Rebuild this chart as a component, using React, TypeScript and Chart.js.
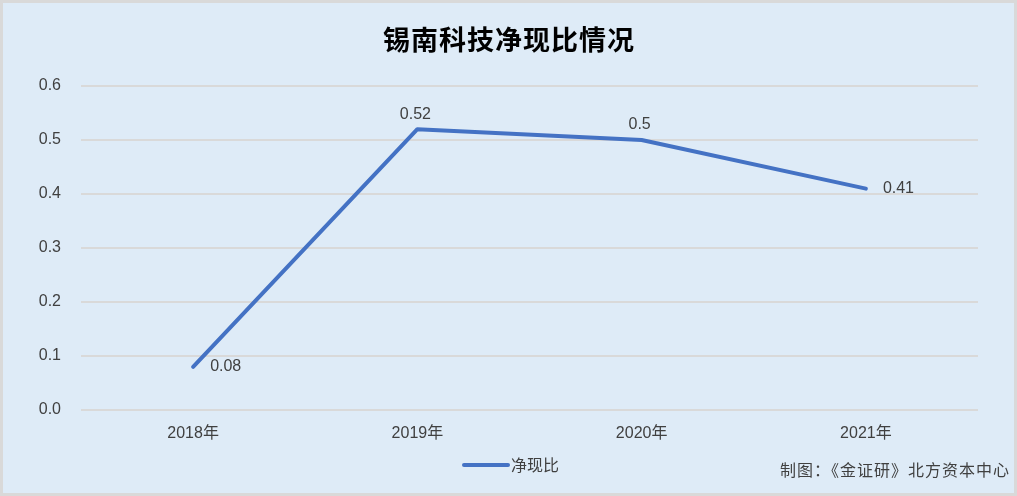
import React, { useEffect, useRef } from "react";
import { Chart, registerables } from "chart.js";

Chart.register(...registerables);

const categories = ["2018年", "2019年", "2020年", "2021年"];
const seriesName = "净现比";
const values = [0.08, 0.52, 0.5, 0.41];
const valueLabels = ["0.08", "0.52", "0.5", "0.41"];
const yTicks = [0, 0.1, 0.2, 0.3, 0.4, 0.5, 0.6];
const titleText = "锡南科技净现比情况";
const footerText = "制图：《金证研》北方资本中心";

const W = 1017;
const H = 496;
const LINE_COLOR = "#4472C4";
const BG = "#DEEBF7";
const LATIN = "'Liberation Sans', 'Noto Sans CJK SC', sans-serif";
const CJK = "'Noto Sans CJK SC', sans-serif";

export default function App() {
  const ref = useRef<HTMLCanvasElement | null>(null);

  useEffect(() => {
    document.body.style.margin = "0";
    const canvas = ref.current;
    if (!canvas) return;

    const decor = {
      id: "decor",
      beforeDraw(chart: any) {
        const ctx = chart.ctx;
        ctx.save();
        ctx.fillStyle = BG;
        ctx.fillRect(0, 0, W, H);
        ctx.strokeStyle = "#D9D9D9";
        ctx.lineWidth = 3;
        ctx.strokeRect(1.5, 1.5, W - 3, H - 3);
        ctx.restore();
      },
      afterDraw(chart: any) {
        const ctx = chart.ctx;
        ctx.save();
        // title
        ctx.fillStyle = "#000000";
        ctx.font = `bold 27px ${CJK}`;
        ctx.textAlign = "center";
        ctx.textBaseline = "middle";
        try { (ctx as any).letterSpacing = "1px"; } catch (e) {}
        ctx.fillText(titleText, 509, 40);
        try { (ctx as any).letterSpacing = "0px"; } catch (e) {}
        // data labels
        const meta = chart.getDatasetMeta(0);
        ctx.font = `16px ${LATIN}`;
        ctx.fillStyle = "#404040";
        const placements = ["right", "above", "above", "right"];
        meta.data.forEach((pt: any, i: number) => {
          const p = placements[i];
          if (p === "above") {
            ctx.textAlign = "center";
            ctx.textBaseline = "middle";
            ctx.fillText(valueLabels[i], pt.x - 2, pt.y - 15);
          } else {
            ctx.textAlign = "left";
            ctx.textBaseline = "middle";
            ctx.fillText(valueLabels[i], pt.x + 17, pt.y);
          }
        });
        // legend
        ctx.strokeStyle = LINE_COLOR;
        ctx.lineWidth = 4;
        ctx.lineCap = "round";
        ctx.beginPath();
        ctx.moveTo(464, 465);
        ctx.lineTo(508, 465);
        ctx.stroke();
        ctx.fillStyle = "#404040";
        ctx.font = `16px ${CJK}`;
        ctx.textAlign = "left";
        ctx.textBaseline = "middle";
        ctx.fillText(seriesName, 511, 465);
        // footer
        ctx.fillStyle = "#404040";
        ctx.font = `16px ${CJK}`;
        ctx.textAlign = "right";
        try { (ctx as any).letterSpacing = "1px"; } catch (e) {}
        ctx.fillText(footerText, 1010, 470);
        try { (ctx as any).letterSpacing = "0px"; } catch (e) {}
        ctx.restore();
      },
    };

    const chart = new Chart(canvas, {
      type: "line",
      data: {
        labels: categories,
        datasets: [
          {
            label: seriesName,
            data: values,
            borderColor: LINE_COLOR,
            backgroundColor: LINE_COLOR,
            borderWidth: 4,
            pointRadius: 0,
            tension: 0,
            borderJoinStyle: "round",
            borderCapStyle: "round",
          },
        ],
      },
      options: {
        animation: false,
        responsive: false,
        devicePixelRatio: 1,
        layout: { padding: { left: 0, top: 86, right: 39, bottom: 0 } },
        plugins: {
          legend: { display: false },
          title: { display: false },
          tooltip: { enabled: false },
        },
        scales: {
          x: {
            offset: true,
            grid: { display: false, drawTicks: false },
            border: { display: false },
            ticks: {
              color: "#404040",
              font: { size: 16, family: LATIN },
              padding: 14,
            },
            afterFit(scale: any) {
              scale.height = 86;
            },
          },
          y: {
            min: 0,
            max: 0.6,
            afterBuildTicks(scale: any) {
              scale.ticks = yTicks.map((v) => ({ value: v }));
            },
            grid: { color: "#D9D9D9", lineWidth: 2, drawTicks: false },
            border: { display: false },
            ticks: {
              color: "#404040",
              font: { size: 16, family: LATIN },
              padding: 20,
              callback: (v: any) => Number(v).toFixed(1),
            },
            afterFit(scale: any) {
              scale.width = 81;
            },
          },
        },
      },
      plugins: [decor],
    });

    return () => chart.destroy();
  }, []);

  return (
    <div style={{ position: "absolute", left: 0, top: 0, width: W, height: H }}>
      <canvas ref={ref} width={W} height={H} style={{ width: W, height: H }} />
    </div>
  );
}
